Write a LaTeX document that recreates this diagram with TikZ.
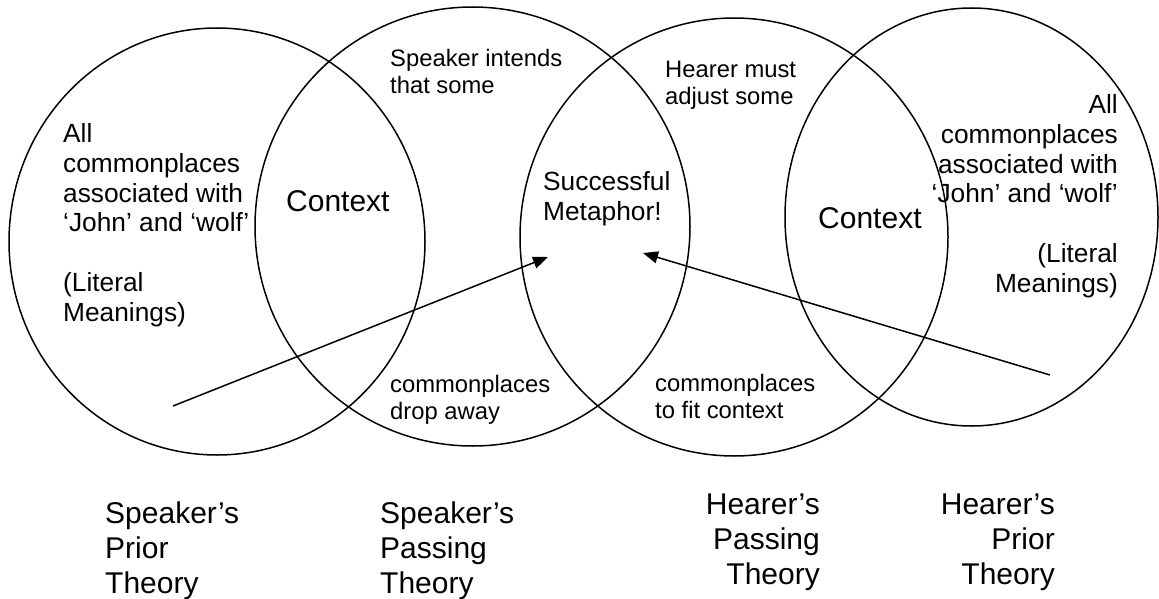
\documentclass[tikz,border=0pt]{standalone}
\usepackage{fontspec}
\setmainfont{Liberation Sans}
\usetikzlibrary{arrows.meta}
\begin{document}
\begin{tikzpicture}[x=1pt,y=-1pt,
  ring/.style={draw=black,line width=1.5pt},
  pointer/.style={draw=black,line width=1.5pt,-{Triangle[length=15pt,width=12pt]}},
  big/.style={font=\fontsize{30}{35}\selectfont,inner sep=0pt},
  mid/.style={font=\fontsize{26.3}{29.7}\selectfont,inner sep=0pt},
  small/.style={font=\fontsize{23.8}{27}\selectfont,inner sep=0pt}]
\useasboundingbox (0,0) rectangle (1159,599);
% circles
\draw[ring] (217,241.5) ellipse [x radius=208, y radius=213.5];
\draw[ring] (472.5,226.5) ellipse [x radius=217.5, y radius=219.5];
\draw[ring] (734,237) ellipse [x radius=214, y radius=219];
\draw[ring] (971.5,217) ellipse [x radius=186.5, y radius=209];
% texts (base anchor = baseline of the last line)
\node[mid,anchor=base west,align=left] (lefttext) at (63,321)
  {All\\commonplaces\\associated with\\‘John’ and ‘wolf’\\[29.7pt](Literal\\Meanings)};
\node[mid,anchor=base east,align=right] (righttext) at (1118,292)
  {All\\commonplaces\\associated with\\‘John’ and ‘wolf’\\[29.7pt](Literal\\Meanings)};
\node[big,anchor=base west] (ctx1) at (286,211) {Context};
\node[big,anchor=base west] (ctx2) at (818,228) {Context};
\node[small,anchor=base west,align=left] (spint) at (390,94) {Speaker intends\\that some};
\node[small,anchor=base west,align=left] (hrmust) at (665,105) {Hearer must\\adjust some};
\node[mid,anchor=base west,align=left] (succ) at (543,220) {Successful\\Metaphor!};
\node[small,anchor=base west,align=left] (drop) at (390,419) {commonplaces\\drop away};
\node[small,anchor=base west,align=left] (fit) at (655,418) {commonplaces\\to fit context};
\node[big,anchor=base west,align=left] (spprior) at (105,593) {Speaker’s\\Prior\\Theory};
\node[big,anchor=base west,align=left] (sppass) at (380,593) {Speaker’s\\Passing\\Theory};
\node[big,anchor=base east,align=right] (hrpass) at (820,584) {Hearer’s\\Passing\\Theory};
\node[big,anchor=base east,align=right] (hrprior) at (1055,584) {Hearer’s\\Prior\\Theory};
% arrows
\coordinate (a1s) at (173,406);
\coordinate (a1e) at (548,257);
\coordinate (a2s) at (1050,375);
\coordinate (a2e) at (643,253);
\draw[pointer] (a1s) -- (a1e);
\draw[pointer] (a2s) -- (a2e);
\end{tikzpicture}
\end{document}
